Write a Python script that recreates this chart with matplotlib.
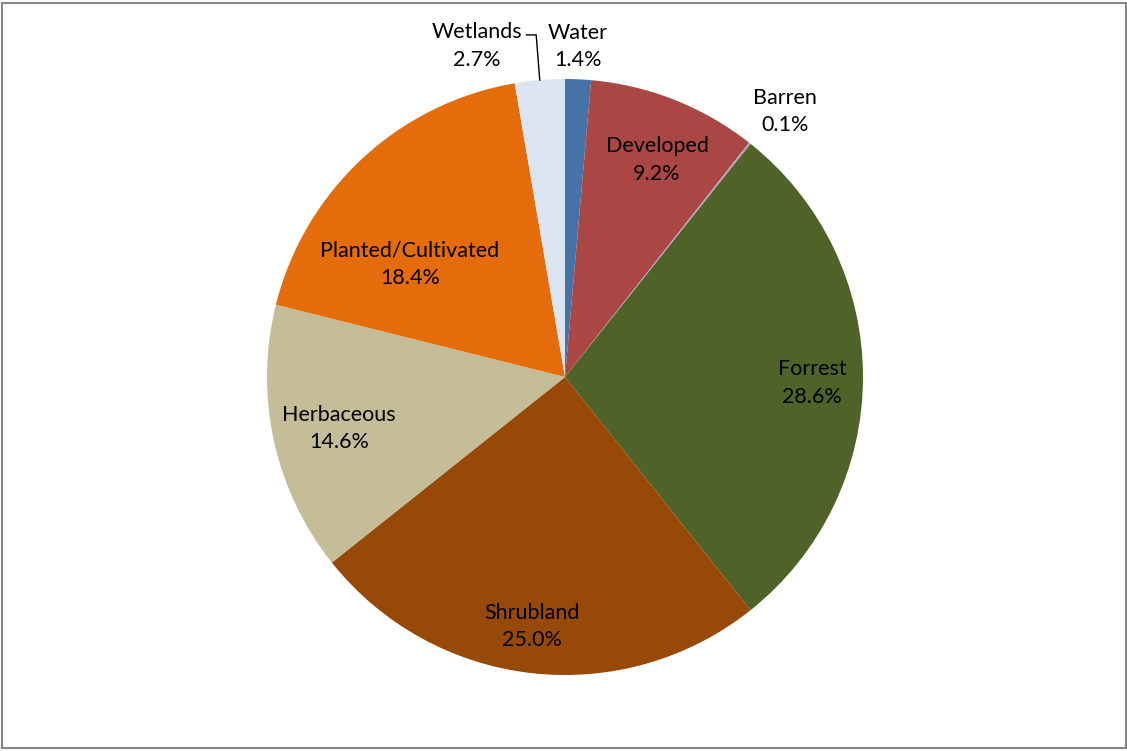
import numpy as np
import matplotlib.pyplot as plt
from matplotlib.patches import Rectangle

# land cover shares, clockwise from 12 o'clock
categories = ["Water", "Developed", "Barren", "Forrest", "Shrubland",
              "Herbaceous", "Planted/Cultivated", "Wetlands"]
shares = [1.4, 9.2, 0.1, 28.6, 25.0, 14.6, 18.4, 2.7]

colors = ["#4572A7", "#AA4643", "#B3A2C7", "#4F6228", "#984807",
          "#C4BD97", "#E46C0A", "#DBE5F1"]

# radial position of each label (fraction of radius) and angle nudge in degrees
label_r = [1.121, 0.80, 1.166, 0.83, 0.835, 0.775, 0.65, 1.159]
label_nudge = [0.3, -1.1, -1.0, -0.7, -1.1, -0.2, 10.4, 9.9]

plt.rcParams['font.family'] = ['Lato', 'DejaVu Sans']

W, H = 1127, 751
fig = plt.figure(figsize=(W / 100, H / 100), dpi=100)
fig.patch.set_facecolor("white")

cx, cy, rad = 565, 751 - 377, 298
ax = fig.add_axes([(cx - rad) / W, (cy - rad) / H, 2 * rad / W, 2 * rad / H])

wedges, _ = ax.pie(shares, colors=colors, startangle=90, counterclock=False,
                   radius=1.0, wedgeprops=dict(linewidth=0))
ax.set_xlim(-1, 1)
ax.set_ylim(-1, 1)
ax.set_aspect("equal")
ax.axis("off")

for w, name, val, r, nud in zip(wedges, categories, shares, label_r, label_nudge):
    mid = np.deg2rad((w.theta1 + w.theta2) / 2 + nud)
    x, y = r * np.cos(mid), r * np.sin(mid) - 0.01
    ax.text(x, y, f"{name}\n{val:.1f}%", ha="center", va="center",
            fontsize=15.5, color="black", linespacing=1.45, clip_on=False)

# leader line for the small wetlands slice
wl = wedges[-1]
ang = np.deg2rad((wl.theta1 + wl.theta2) / 2)
ex, ey = np.cos(ang), np.sin(ang)
ax.plot([ex, ex - 0.012, ex - 0.045], [ey, 1.148, 1.148], color="black",
        lw=1.0, clip_on=False)

fig.patches.append(Rectangle((2 / W, 3 / H), 1124 / W, 745 / H,
                             transform=fig.transFigure, fill=False,
                             edgecolor="#868686", linewidth=1.5))

fig.savefig("out.png", dpi=100)
